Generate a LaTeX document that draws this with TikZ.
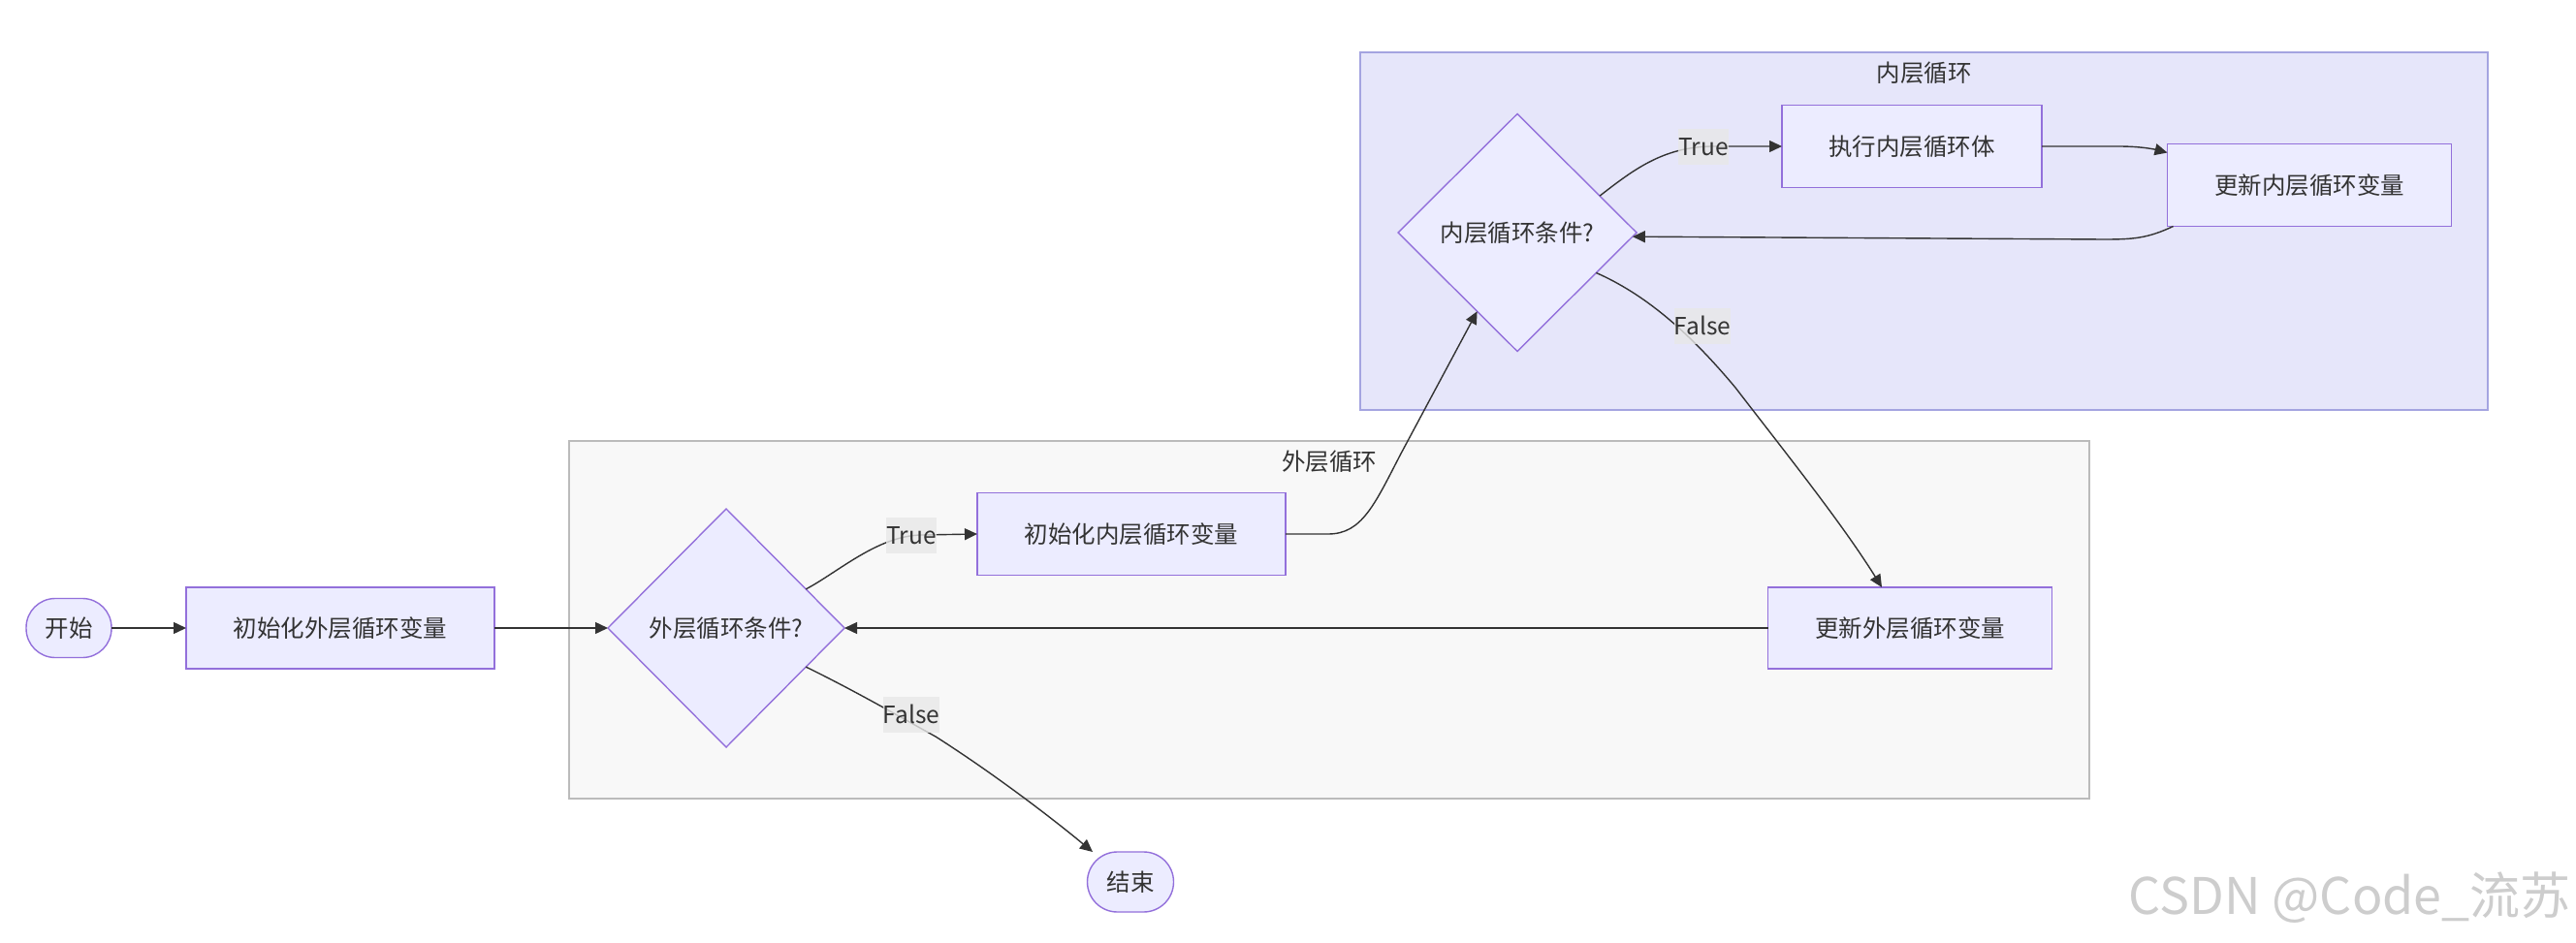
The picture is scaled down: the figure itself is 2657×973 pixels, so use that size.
\documentclass[tikz,border=0pt]{standalone}
\usepackage{fontspec}
\setmainfont{Noto Sans CJK SC}
\usetikzlibrary{shapes.geometric,arrows.meta}
\definecolor{nodefill}{HTML}{ECECFF}
\definecolor{nodestroke}{HTML}{9370DB}
\definecolor{innerfill}{HTML}{E6E6FA}
\definecolor{innerstroke}{HTML}{A4A4E0}
\definecolor{outerfill}{HTML}{F8F8F8}
\definecolor{outerstroke}{HTML}{BBBBBB}
\definecolor{edgec}{HTML}{333333}
\definecolor{txt}{HTML}{333333}
\definecolor{lblfill}{HTML}{E8E8E8}
\definecolor{wmc}{HTML}{CDCDCD}
\begin{document}
\begin{tikzpicture}[x=1pt,y=-1pt,
  every node/.style={font=\fontsize{24.5pt}{30pt}\selectfont, text=txt, outer sep=0pt},
  box/.style={rectangle, draw=nodestroke, fill=nodefill, line width=1.4pt, inner sep=0pt},
  term/.style={box, rounded corners=30pt},
  dec/.style={diamond, draw=nodestroke, fill=nodefill, line width=1.4pt, inner sep=0pt},
  cluster/.style={rectangle, line width=1.5pt, inner sep=0pt},
  arr/.style={draw=edgec, line width=1.4pt, -{Triangle[length=13pt,width=12pt]}},
  lbl/.style={fill=lblfill, fill opacity=0.8, text opacity=1, inner xsep=0pt, inner ysep=6.5pt, text height=21pt, text depth=3pt}
]
\fill[white] (0,0) rectangle (2657,973);
\useasboundingbox (0,0) rectangle (2657,973);

% clusters
\node[cluster, draw=outerstroke, fill=outerfill, minimum width=1568pt, minimum height=369pt] (outer) at (1371,639.5) {};
\node (outerlbl) at ([yshift=-21pt]outer.north) {外层循环};
\node[cluster, draw=innerstroke, fill=innerfill, minimum width=1163pt, minimum height=369pt] (inner) at (1984.5,238.5) {};
\node (innerlbl) at ([yshift=-21pt]inner.north) {内层循环};

% nodes
\node[term, minimum width=88pt, minimum height=61pt] (st) at (71,648) {开始};
\node[box, minimum width=318pt, minimum height=84pt] (io) at (351,648) {初始化外层循环变量};
\node[dec, minimum width=244pt, minimum height=246pt] (od) at (749,648) {外层循环条件?};
\node[box, minimum width=318pt, minimum height=85pt] (ii) at (1167,551) {初始化内层循环变量};
\node[dec, minimum width=246pt, minimum height=245pt] (id) at (1565,240) {内层循环条件?};
\node[box, minimum width=268pt, minimum height=85pt] (ex) at (1972,151) {执行内层循环体};
\node[box, minimum width=293pt, minimum height=85pt] (ui) at (2382,191) {更新内层循环变量};
\node[box, minimum width=293pt, minimum height=84pt] (uo) at (1970,648) {更新外层循环变量};
\node[term, minimum width=89pt, minimum height=62pt, rounded corners=31pt] (en) at (1166,910) {结束};

% edges
\draw[arr] (st.east) -- (io.west);
\draw[arr] (io.east) -- (od.west);
\draw[arr] (od.26) .. controls (865,590) and (905,553) .. (950,552) -- (ii.west);
\draw[arr] (ii.east) -- (1370,551) .. controls (1405,551) and (1418,520) .. (1445,468) -- (id.243);
\draw[arr] (id.24) .. controls (1685,175) and (1715,152) .. (1765,151) -- (ex.west);
\draw[arr] (ex.east) -- (2185,151) .. controls (2208,151) and (2222,154) .. ([yshift=-9pt]ui.north west);
\draw[arr] ([xshift=6pt]ui.south west) .. controls (2215,246) and (2200,247) .. (2170,247) -- (id.-2);
\draw[arr] (id.-27) .. controls (1695,303) and (1740,340) .. (1790,400) .. controls (1840,465) and (1900,540) .. ([xshift=-29pt]uo.north);
\draw[arr] (uo.west) -- (od.east);
\draw[arr] (od.-26) .. controls (880,712) and (920,735) .. (965,760) .. controls (1020,795) and (1080,840) .. ([xshift=-39pt]en.north);

% edge labels
\node[lbl] (lt1) at (940,552) {True};
\node[lbl] (lf1) at (940,737.5) {False};
\node[lbl] (lt2) at (1757,151.5) {True};
\node[lbl] (lf2) at (1756,336.5) {False};

% watermark
\node[font=\fontsize{52pt}{60pt}\selectfont, text=wmc, anchor=east] (wm) at (2655,926) {CSDN @Code\_流苏};
\end{tikzpicture}
\end{document}
